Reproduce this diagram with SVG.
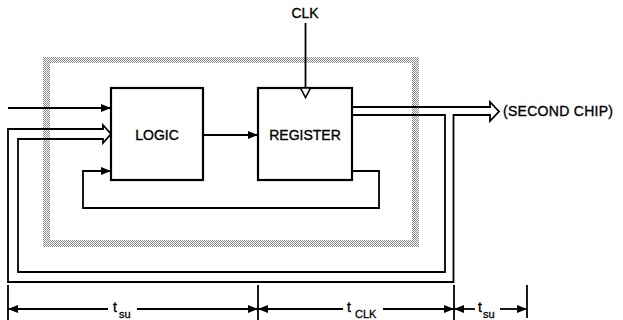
<svg xmlns="http://www.w3.org/2000/svg" width="623" height="320" viewBox="0 0 623 320">
<style>
.box{fill:#fff;stroke:#000;stroke-width:2.2}
.ln{fill:none;stroke:#000;stroke-width:1.8}
.bus{fill:none;stroke:#000;stroke-width:1.8;stroke-linejoin:miter}
.lbl{font-family:"Liberation Sans",Arial,sans-serif;font-size:14px;fill:#000;stroke:#000;stroke-width:0.35}
.sub{font-family:"Liberation Sans",Arial,sans-serif;font-size:11px;fill:#000;stroke:#000;stroke-width:0.3}
</style>
<defs>
<pattern id="dots" width="2" height="2" patternUnits="userSpaceOnUse">
<rect width="2" height="2" fill="#fff"/>
<rect x="0" y="0" width="1" height="1" fill="#8a8a8a"/>
<rect x="1" y="1" width="1" height="1" fill="#8a8a8a"/>
</pattern>
<marker id="ah" viewBox="0 0 10 8" refX="10" refY="4" markerWidth="10" markerHeight="8" markerUnits="userSpaceOnUse" orient="auto-start-reverse">
<path d="M0,0 L10,4 L0,8 Z" fill="#000"/>
</marker>
</defs>
<g id="chip-boundary">
<path d="M43,57 H419 V247 H43 Z M50,63 V240 H412 V63 Z" fill="url(#dots)" fill-rule="evenodd"/>
</g>
<g id="logic">
<rect class="box" x="111" y="88" width="92" height="92"/>
<text class="lbl" x="157" y="140" text-anchor="middle">LOGIC</text>
</g>
<g id="register">
<rect class="box" x="258" y="88" width="94" height="92"/>
<path d="M300.5,88 L310.5,88 L305.5,97.5 Z" fill="#fff" stroke="#000" stroke-width="1.6"/>
<text class="lbl" x="305" y="140" text-anchor="middle">REGISTER</text>
</g>
<g id="clk">
<text class="lbl" x="305" y="18" text-anchor="middle">CLK</text>
</g>
<g id="second-chip">
<text class="lbl" x="503" y="116" textLength="110" lengthAdjust="spacing">(SECOND CHIP)</text>
</g>
<g id="connectors">
<line class="ln" x1="305.5" y1="23" x2="305.5" y2="88"/>
<line class="ln" x1="8" y1="108" x2="111" y2="108" marker-end="url(#ah)"/>
<line class="ln" x1="203" y1="135" x2="258" y2="135" marker-end="url(#ah)"/>
<polyline class="ln" points="352,171 379,171 379,208 83,208 83,171 111,171" marker-end="url(#ah)"/>
<path class="bus" d="M352,107 H490 V102 L499,111.5 L490,121 V115 H453.5 V282 H8 V129 H103 V125 L111,134 L103,143 V139 H18 V272 H445 V115 H352"/>
</g>
<g id="dimensions">
<line class="ln" x1="8" y1="285" x2="8" y2="320"/>
<line class="ln" x1="258" y1="285" x2="258" y2="320"/>
<line class="ln" x1="454" y1="285" x2="454" y2="320"/>
<line class="ln" x1="527" y1="285" x2="527" y2="318"/>
<line class="ln" x1="8" y1="309" x2="108" y2="309" marker-start="url(#ah)"/>
<line class="ln" x1="137" y1="309" x2="258" y2="309" marker-end="url(#ah)"/>
<line class="ln" x1="258" y1="309" x2="343" y2="309" marker-start="url(#ah)"/>
<line class="ln" x1="383" y1="309" x2="454" y2="309" marker-end="url(#ah)"/>
<line class="ln" x1="454" y1="309" x2="475" y2="309" marker-start="url(#ah)"/>
<line class="ln" x1="500" y1="309" x2="527" y2="309" marker-end="url(#ah)"/>
<text class="lbl" x="113" y="312">t</text><text class="sub" x="119" y="318">su</text>
<text class="lbl" x="347" y="312">t</text><text class="sub" x="355" y="318">CLK</text>
<text class="lbl" x="478" y="312">t</text><text class="sub" x="483" y="318">su</text>
</g>
</svg>
